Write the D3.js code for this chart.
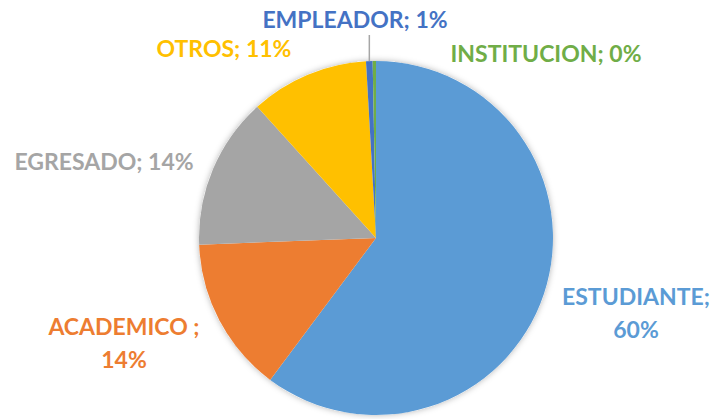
<!DOCTYPE html>
<html>
<head>
<meta charset="utf-8">
<script src="https://cdn.jsdelivr.net/npm/d3@7"></script>
<style>
  body { margin: 0; background: #fff; }
  text { font-family: Lato, "Open Sans", sans-serif; font-weight: bold; }
</style>
</head>
<body>
<div id="chart"></div>
<script>
var categories = ["ESTUDIANTE", "ACADEMICO ", "EGRESADO", "OTROS", "EMPLEADOR", "INSTITUCION"];
var values = [60.2, 14.2, 13.9, 10.8, 0.6, 0.3];
var colors = ["#5B9BD5", "#ED7D31", "#A5A5A5", "#FFC000", "#4472C4", "#70AD47"];

var width = 711, height = 419,
    cx = 376, cy = 238, radius = 177;

// label anchors (middle of text, first baseline) and line breaks
var labelPos = [
  {x: 636, y: 305, split: true},
  {x: 124, y: 335, split: true},
  {x: 104, y: 170, split: false},
  {x: 224, y: 57, split: false},
  {x: 355, y: 28, split: false},
  {x: 546, y: 62, split: false}
];

var svg = d3.select("#chart").append("svg")
    .attr("width", width)
    .attr("height", height);

var defs = svg.append("defs");
var f = defs.append("filter").attr("id", "shadow")
    .attr("x", "-10%").attr("y", "-10%").attr("width", "120%").attr("height", "120%");
f.append("feDropShadow")
    .attr("dx", 0).attr("dy", 0)
    .attr("stdDeviation", 3)
    .attr("flood-color", "#000")
    .attr("flood-opacity", 0.3);

var pie = d3.pie().sort(null).value(function(d) { return d; });
var arcs = pie(values);
var arc = d3.arc().innerRadius(0).outerRadius(radius);

var g = svg.append("g")
    .attr("transform", "translate(" + cx + "," + cy + ")");

g.append("circle").attr("r", radius).attr("fill", "#fff").attr("filter", "url(#shadow)");

g.selectAll("path.slice")
    .data(arcs)
  .enter().append("path")
    .attr("class", "slice")
    .attr("d", arc)
    .attr("fill", function(d, i) { return colors[i]; });

var total = d3.sum(values);

// leader line for EMPLEADOR
var emp = arcs[4];
var mid = (emp.startAngle + emp.endAngle) / 2;
var lx = Math.sin(mid) * radius;
g.append("line")
    .attr("x1", lx).attr("y1", -Math.cos(mid) * radius)
    .attr("x2", lx).attr("y2", 35 - cy)
    .attr("stroke", "#A6A6A6")
    .attr("stroke-width", 1.5);

svg.selectAll("text.lbl")
    .data(arcs)
  .enter().append("text")
    .attr("class", "lbl")
    .attr("text-anchor", "middle")
    .attr("font-size", 23)
    .attr("fill", function(d, i) { return colors[i]; })
    .each(function(d, i) {
      var p = labelPos[i];
      var pct = Math.round(d.value / total * 100) + "%";
      var t = d3.select(this);
      if (p.split) {
        t.append("tspan").attr("x", p.x).attr("y", p.y).text(categories[i] + ";");
        t.append("tspan").attr("x", p.x).attr("y", p.y + 33).text(pct);
      } else {
        t.append("tspan").attr("x", p.x).attr("y", p.y).text(categories[i] + "; " + pct);
      }
    });
</script>
</body>
</html>
